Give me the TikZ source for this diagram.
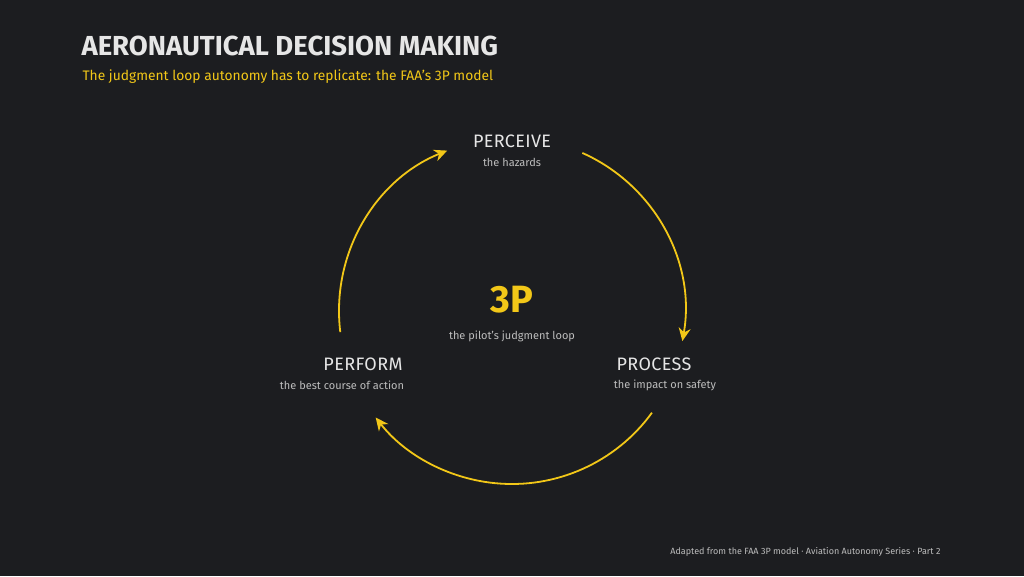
\documentclass[tikz,border=0pt]{standalone}
\usepackage{fontspec}
\setmainfont{Fira Sans}
\usetikzlibrary{arrows.meta}
\definecolor{bgdark}{HTML}{1C1D20}
\definecolor{gold}{HTML}{F2C718}
\definecolor{softwhite}{HTML}{E6E6E6}
\definecolor{softgray}{HTML}{BDBDBD}
\tikzset{
step name/.style={text=softwhite, font=\fontsize{18}{20}\selectfont\addfontfeature{LetterSpace=2}},
step note/.style={text=softgray, font=\fontsize{11}{13}\selectfont},
loop arc/.style={gold, line width=1.8pt, -{Stealth[length=13pt,width=12pt]}},
}
\begin{document}
\begin{tikzpicture}[x=1pt,y=-1pt]
\fill[bgdark] (0,0) rectangle (1024,576);
\useasboundingbox (0,0) rectangle (1024,576);
% heading
\node[anchor=west, text=softwhite, font=\bfseries\fontsize{27.5}{30}\selectfont] (title) at (78,46) {AERONAUTICAL DECISION MAKING};
\node[anchor=west, text=gold, font=\fontsize{13.8}{16}\selectfont] (subtitle) at (79,77) {The judgment loop autonomy has to replicate: the FAA's 3P model};
% steps
\node[step name] (perceive) at (512,141) {PERCEIVE};
\node[step note] (perceivenote) at (512,162) {the hazards};
\node[step name] (process) at (654,364) {PROCESS};
\node[step note] (processnote) at (665,385) {the impact on safety};
\node[step name] (perform) at (363,364) {PERFORM};
\node[step note] (performnote) at (342,385) {the best course of action};
% centre
\node[text=gold, font=\bfseries\fontsize{38}{40}\selectfont] (core) at (512,300) {3P};
\node[step note] (corenote) at (512,336) {the pilot's judgment loop};
% loop
\coordinate (hub) at (512,311);
\draw[loop arc] (hub) ++(-66:173) arc[start angle=-66, end angle=10, radius=173];
\draw[loop arc] (hub) ++(36:173) arc[start angle=36, end angle=142, radius=173];
\draw[loop arc] (hub) ++(173:173) arc[start angle=173, end angle=248, radius=173];
% footer
\node[anchor=east, text=softgray, font=\fontsize{9}{10}\selectfont] (footer) at (944,552) {Adapted from the FAA 3P model · Aviation Autonomy Series · Part 2};
\end{tikzpicture}
\end{document}
